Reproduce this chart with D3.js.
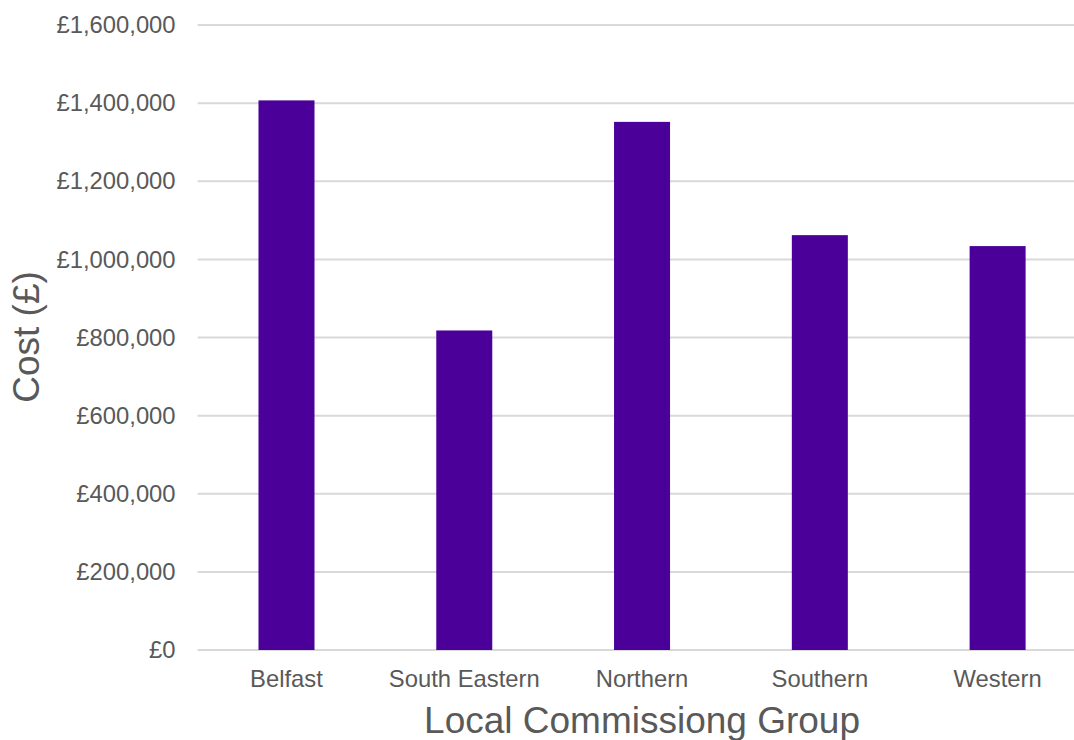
<!DOCTYPE html>
<html>
<head>
<meta charset="utf-8">
<script src="https://cdn.jsdelivr.net/npm/d3@7"></script>
<style>
  html, body { margin: 0; padding: 0; background: #ffffff; }
  svg { display: block; font-family: "Liberation Sans", Arial, sans-serif; }
</style>
</head>
<body>
<svg id="chart" width="1074" height="740"></svg>
<script>
// Cost by Local Commissioning Group
const groups = ["Belfast", "South Eastern", "Northern", "Southern", "Western"];
const costs = [1407000, 818000, 1352000, 1062000, 1034000];
const yTicks = [0, 200000, 400000, 600000, 800000, 1000000, 1200000, 1400000, 1600000];
const yTitle = "Cost (£)";
const xTitle = "Local Commissiong Group";

const svg = d3.select("#chart");
const plot = { left: 197.6, right: 1086.5, top: 25, bottom: 650 };
const textColor = "#595959";
const gridColor = "#d9d9d9";
const barColor = "#4a0099";
const tickFont = "23.8px";
const titleFont = "37px";

const x = d3.scaleBand()
  .domain(groups)
  .range([plot.left, plot.right])
  .paddingInner(0.685)
  .paddingOuter(0.3425);

const y = d3.scaleLinear()
  .domain([0, 1600000])
  .range([plot.bottom, plot.top]);

const fmt = v => "£" + d3.format(",")(v);

// Horizontal gridlines (the plot runs past the right edge)
svg.append("g")
  .selectAll("line")
  .data(yTicks)
  .join("line")
  .attr("x1", plot.left)
  .attr("x2", plot.right)
  .attr("y1", d => y(d))
  .attr("y2", d => y(d))
  .attr("stroke", gridColor)
  .attr("stroke-width", 2);

// Bars
svg.append("g")
  .selectAll("rect")
  .data(groups.map((g, i) => ({ g, v: costs[i] })))
  .join("rect")
  .attr("x", d => x(d.g))
  .attr("width", x.bandwidth())
  .attr("y", d => y(d.v))
  .attr("height", d => y(0) - y(d.v))
  .attr("fill", barColor);

// Y axis labels
const yAxis = d3.axisLeft(y).tickValues(yTicks).tickFormat(fmt).tickSize(0).tickPadding(22);
const gy = svg.append("g").attr("transform", `translate(${plot.left},0)`).call(yAxis);
gy.select(".domain").remove();
gy.selectAll("text")
  .attr("fill", textColor)
  .attr("font-size", tickFont)
  .attr("font-family", "Liberation Sans, Arial, sans-serif");

// X axis labels
const xAxis = d3.axisBottom(x).tickSize(0).tickPadding(20);
const gx = svg.append("g").attr("transform", `translate(0,${plot.bottom})`).call(xAxis);
gx.select(".domain").remove();
gx.selectAll("text")
  .attr("fill", textColor)
  .attr("font-size", tickFont)
  .attr("font-family", "Liberation Sans, Arial, sans-serif");

// Axis titles
svg.append("text")
  .attr("x", (plot.left + plot.right) / 2)
  .attr("y", 733)
  .attr("text-anchor", "middle")
  .attr("fill", textColor)
  .attr("font-size", titleFont)
  .text(xTitle);

svg.append("text")
  .attr("transform", `translate(39,337) rotate(-90)`)
  .attr("text-anchor", "middle")
  .attr("fill", textColor)
  .attr("font-size", titleFont)
  .text(yTitle);
</script>
</body>
</html>
